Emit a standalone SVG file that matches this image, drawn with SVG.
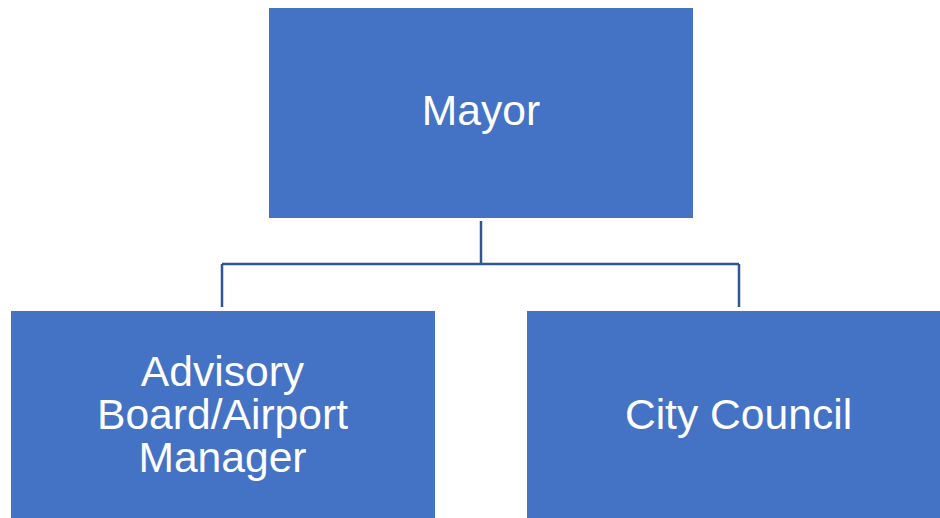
<svg xmlns="http://www.w3.org/2000/svg" width="940" height="518" viewBox="0 0 940 518">
<style>
.box{fill:#4472C4;stroke:#ffffff;stroke-width:1}
.lbl{font-family:"Liberation Sans",Arial,sans-serif;font-size:42.6px;fill:#ffffff;text-anchor:middle}
.conn{fill:none;stroke:#2F5597;stroke-width:2.5}
</style>
<rect width="940" height="518" fill="#ffffff"/>
<g id="connectors">
<path class="conn" d="M481 221 V264 M222 264 H739 M222 264 V307 M739 264 V307"/>
</g>
<g id="mayor">
<rect class="box" x="268.5" y="7.5" width="425" height="211"/>
<text class="lbl" x="481" y="125">Mayor</text>
</g>
<g id="advisory">
<rect class="box" x="10.5" y="310.5" width="425" height="210"/>
<text class="lbl" x="222.5" y="386">Advisory</text>
<text class="lbl" x="222.5" y="429">Board/Airport</text>
<text class="lbl" x="222.5" y="472">Manager</text>
</g>
<g id="council">
<rect class="box" x="526.5" y="310.5" width="420" height="210"/>
<text class="lbl" x="738.5" y="429">City Council</text>
</g>
</svg>
